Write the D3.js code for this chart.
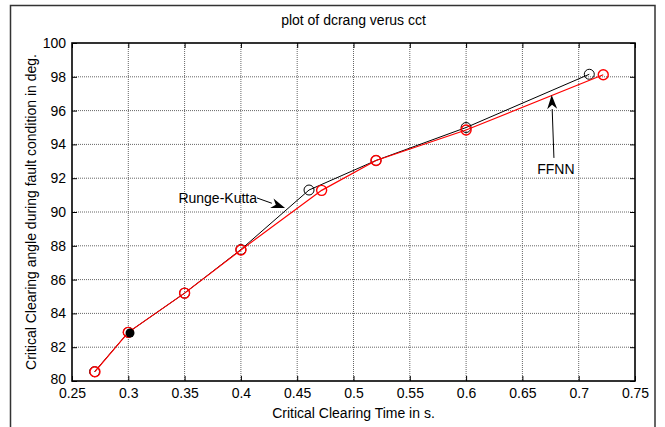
<!DOCTYPE html>
<html><head><meta charset="utf-8">
<script src="https://cdn.jsdelivr.net/npm/d3@7"></script>
<style>body{margin:0;background:#fff;} svg{display:block;font-family:"Liberation Sans",Arial,sans-serif;}</style>
</head><body>
<script>
const title = "plot of dcrang verus cct";
const xLabel = "Critical Clearing Time in s.";
const yLabel = "Critical Clearing angle during fault condition in deg.";
const xTicks = [0.25,0.3,0.35,0.4,0.45,0.5,0.55,0.6,0.65,0.7,0.75];
const yTicks = [80,82,84,86,88,90,92,94,96,98,100];
const rkX = [0.27,0.3,0.35,0.4,0.4605,0.52,0.6,0.7094];
const rkY = [80.55,82.88,85.2,87.78,91.3,93.05,95.0,98.15];
const nnX = [0.2704,0.3,0.35,0.4,0.4717,0.52,0.6,0.7218];
const nnY = [80.55,82.88,85.2,87.75,91.28,93.05,94.85,98.12];
const filledX = [0.3015];
const filledY = [82.84];
// annotations: [label, textX, textY, tailX, tailY, tipX, tipY]
const annotations = [
  ["Runge-Kutta", 0.4143, 90.85, 0.4143, 90.83, 0.4392, 90.24, "end"],
  ["FFNN", 0.6797, 92.55, 0.678, 93.2, 0.676, 96.92, "middle"]
];

const W=665,H=427, L=72, R=635, T=43, B=381;
const svg=d3.select("body").append("svg").attr("width",W).attr("height",H);
svg.append("rect").attr("x",10.5).attr("y",5.5).attr("width",644.5).attr("height",440)
  .attr("fill","none").attr("stroke","#333").attr("stroke-width",1.5);
const x=d3.scaleLinear().domain([0.25,0.75]).range([L,R]);
const y=d3.scaleLinear().domain([80,100]).range([B,T]);

const g=svg.append("g");
// grid
g.selectAll(".gx").data(xTicks.slice(1,-1)).join("line")
  .attr("x1",d=>x(d)).attr("x2",d=>x(d)).attr("y1",T).attr("y2",B)
  .attr("stroke","#666").attr("stroke-dasharray","1,1").attr("stroke-width",1);
g.selectAll(".gy").data(yTicks.slice(1,-1)).join("line")
  .attr("y1",d=>y(d)).attr("y2",d=>y(d)).attr("x1",L).attr("x2",R)
  .attr("stroke","#666").attr("stroke-dasharray","1,1").attr("stroke-width",1);

// axes
const fmt=d=>String(d);
const ax=svg.append("g").attr("transform",`translate(0,${B})`)
  .call(d3.axisBottom(x).tickValues(xTicks).tickFormat(fmt).tickSizeInner(-5).tickSizeOuter(0).tickPadding(7));
const ay=svg.append("g").attr("transform",`translate(${L},0)`)
  .call(d3.axisLeft(y).tickValues(yTicks).tickFormat(fmt).tickSizeInner(-5).tickSizeOuter(0).tickPadding(6));
const axT=svg.append("g").attr("transform",`translate(0,${T})`)
  .call(d3.axisTop(x).tickValues(xTicks).tickFormat("").tickSizeInner(-5).tickSizeOuter(0));
const ayR=svg.append("g").attr("transform",`translate(${R},0)`)
  .call(d3.axisRight(y).tickValues(yTicks).tickFormat("").tickSizeInner(-5).tickSizeOuter(0));
[ax,ay,axT,ayR].forEach(a=>{
  a.select(".domain").remove();
  a.selectAll("text").attr("font-size",14).attr("fill","#000").attr("font-family","Liberation Sans, Arial, sans-serif");
  a.selectAll("line").attr("stroke","#000");
});
// keep the bottom y label clear of the first x label
ay.selectAll(".tick text").filter(d=>d===yTicks[0]).attr("dy","0.15em");
svg.append("rect").attr("x",L).attr("y",T).attr("width",R-L).attr("height",B-T)
  .attr("fill","none").attr("stroke","#000").attr("stroke-width",1.6);

// lines
const line=d3.line().x(d=>x(d[0])).y(d=>y(d[1]));
const rk=rkX.map((v,i)=>[v,rkY[i]]);
const nn=nnX.map((v,i)=>[v,nnY[i]]);
svg.append("path").datum(rk).attr("d",line).attr("fill","none").attr("stroke","#000").attr("stroke-width",1);
svg.selectAll(".rkm").data(rk).join("circle").attr("cx",d=>x(d[0])).attr("cy",d=>y(d[1])).attr("r",5)
  .attr("fill","none").attr("stroke","#000").attr("stroke-width",1);
svg.append("path").datum(nn).attr("d",line).attr("fill","none").attr("stroke","#f00").attr("stroke-width",1.2);
svg.selectAll(".nnm").data(nn).join("circle").attr("cx",d=>x(d[0])).attr("cy",d=>y(d[1])).attr("r",5)
  .attr("fill","none").attr("stroke","#f00").attr("stroke-width",1.4);
svg.selectAll(".fm").data(filledX.map((v,i)=>[v,filledY[i]])).join("circle")
  .attr("cx",d=>x(d[0])).attr("cy",d=>y(d[1])).attr("r",4.5).attr("fill","#000");

// annotations
annotations.forEach(a=>{
  const [lab,tx,ty,x1,y1,x2,y2,anc]=a;
  const px1=x(x1),py1=y(y1),px2=x(x2),py2=y(y2);
  const ang=Math.atan2(py2-py1,px2-px1);
  const hl=14, hw=5;
  const bx=px2-hl*Math.cos(ang), by=py2-hl*Math.sin(ang);
  svg.append("line").attr("x1",px1).attr("y1",py1).attr("x2",bx).attr("y2",by).attr("stroke","#000").attr("stroke-width",1);
  const p=[[px2,py2],[bx+hw*Math.sin(ang),by-hw*Math.cos(ang)],[bx+hl*0.3*Math.cos(ang),by+hl*0.3*Math.sin(ang)],[bx-hw*Math.sin(ang),by+hw*Math.cos(ang)]];
  svg.append("path").attr("d","M"+p.map(q=>q.join(",")).join("L")+"Z").attr("fill","#000");
  svg.append("text").attr("x",x(tx)).attr("y",y(ty)).attr("text-anchor",anc).attr("dy","0.35em")
    .attr("font-size",14).text(lab);
});

// titles
svg.append("text").attr("x",(L+R)/2).attr("y",25).attr("text-anchor","middle").attr("font-size",14).text(title);
svg.append("text").attr("x",(L+R)/2).attr("y",418).attr("text-anchor","middle").attr("font-size",14).text(xLabel);
svg.append("text").attr("transform",`translate(31,${(T+B)/2}) rotate(-90)`).attr("text-anchor","middle")
  .attr("dy","0.35em").attr("font-size",14).text(yLabel);
</script>
</body></html>
